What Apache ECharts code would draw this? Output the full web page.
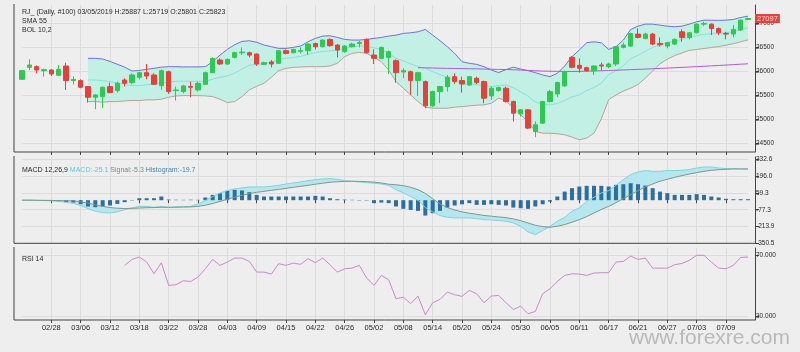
<!DOCTYPE html>
<html><head><meta charset="utf-8">
<script src="https://cdn.jsdelivr.net/npm/echarts@6/dist/echarts.min.js"></script>
<style>html,body{margin:0;padding:0;background:#eeeeee;}#c{width:800px;height:352px;}</style>
</head><body><div id="c"></div>
<script>
const dates = ['02/22','02/25','02/26','02/27','02/28','03/01','03/04','03/05','03/06','03/07','03/08','03/11','03/12','03/13','03/14','03/15','03/18','03/19','03/20','03/21','03/22','03/25','03/26','03/27','03/28','03/29','04/01','04/02','04/03','04/04','04/05','04/08','04/09','04/10','04/11','04/12','04/15','04/16','04/17','04/18','04/22','04/23','04/24','04/25','04/26','04/29','04/30','05/01','05/02','05/03','05/06','05/07','05/08','05/09','05/10','05/13','05/14','05/15','05/16','05/17','05/20','05/21','05/22','05/23','05/24','05/27','05/28','05/29','05/30','05/31','06/03','06/04','06/05','06/06','06/07','06/10','06/11','06/12','06/13','06/14','06/17','06/18','06/19','06/20','06/21','06/24','06/25','06/26','06/27','06/28','07/01','07/02','07/03','07/04','07/05','07/08','07/09','07/10','07/11','07/12'];

const opens  = [25826,26076,26090,26007,26021,25910,26104,25801,25799,25674, 25451,25465,25674,25590,25812,25757,25868,25965,25917,25694, 25986,25590,25570,25674,25604,25722,25965,26229,26146,26285, 26382,26382,26354,26139,26188,26160,26424,26382,26410,26424, 26576,26507,26660,26542,26403,26507,26576,26660,26333,26264, 26285,26215,25979,25986,25799,25778,25271,25570,25674,25882, 25799,25708,25847,25778,25479,25590,25639,25361,25104,25188, 24736,24910,25361,25521,25688,26285,26118,26069,26007,26125, 26090,26146,26493,26521,26771,26681,26771,26576,26521,26562, 26819,26701,26799,26979,26979,26889,26785,26771,26854,27076];
const highs  = [26021,26243,26118,26049,26035,26125,26174,25887,25826,25688, 25514,25674,25757,25778,25847,25951,25986,26146,25951,26035, 26007,25674,25708,25778,25778,25986,26285,26264,26264,26403, 26493,26403,26368,26194,26229,26438,26451,26465,26493,26576, 26590,26660,26681,26562,26542,26590,26632,26681,26451,26507, 26424,26243,26056,26007,25986,25799,25590,25688,25917,25951, 25882,25896,25882,25799,25674,25674,25674,25382,25201,25201, 24944,25375,25604,25778,26007,26312,26264,26090,26125,26174, 26174,26521,26590,26799,26889,26799,26799,26701,26611,26681, 26868,26819,26993,27028,26993,26910,26819,26958,27076,27111];
const lows   = [25812,26021,25951,25882,25896,25896,25604,25719,25639,25340, 25201,25222,25535,25549,25674,25722,25826,25826,25708,25604, 25521,25382,25535,25451,25570,25708,25951,26125,26125,26264, 26333,26285,26104,26125,26076,26146,26347,26368,26368,26333, 26451,26493,26507,26285,26382,26493,26493,26368,26146,26243, 25938,25757,25847,25500,25479,25222,25243,25326,25570,25729, 25549,25688,25729,25326,25396,25570,25340,24944,25049,24785, 24618,24896,25340,25451,25674,26056,25965,25986,25917,26007, 26056,26104,26472,26507,26681,26660,26542,26507,26472,26542, 26611,26660,26785,26937,26750,26750,26660,26701,26840,27062];
const closes = [26007,26125,26021,26028,25937,26035,25799,25823,25660,25451, 25500,25660,25549,25743,25743,25917,25965,25896,25722,26007, 25570,25604,25688,25660,25743,25965,26264,26146,26243,26382, 26396,26333,26146,26174,26146,26424,26368,26451,26424,26562, 26507,26646,26528,26438,26521,26562,26597,26382,26264,26493, 26403,25965,26007,25799,25965,25271,25570,25674,25868,25778, 25729,25882,25757,25431,25639,25653,25361,25118,25188,24806, 24875,25361,25569,25757,25986,26076,26056,26007,26104,26104, 26146,26507,26542,26785,26701,26771,26562,26548,26590,26660, 26701,26799,26979,26993,26889,26799,26771,26868,27062,27097];

const bolUpper = [null,null,null,null,null,null,null,null,null,26264, 26264,26250,26200,26140,26080,26000,26010,26035,26056,26080, 26090,26090,26085,26085,26085,26090,26194,26333,26451,26549, 26618,26632,26600,26542,26507,26472,26472,26493,26521,26611, 26681,26729,26736,26701,26660,26646,26646,26660,26681,26701, 26729,26750,26785,26799,26819,26868,26750,26632,26507,26368, 26194,26160,26139,26090,26021,25965,26030,26080,26040,26007, 25965,25917,25882,25951,26104,26299,26438,26590,26611,26590, 26451,26507,26646,26868,26937,26979,26979,26958,26937,26924, 26937,26979,27028,27062,27060,27058,27062,27076,27118,27146];
const bolMid   = [null,null,null,null,null,null,null,null,null,25812, 25812,25798,25780,25750,25722,25690,25696,25715,25726,25745, 25770,25785,25785,25785,25785,25785,25830,25870,25895,25955, 26040,26118,26140,26142,26188,26240,26264,26285,26302,26350, 26385,26410,26420,26430,26480,26507,26518,26514,26483,26448, 26375,26264,26212,26150,26090,26056,25986,25927,25865,25806, 25726,25716,25712,25691,25674,25698,25706,25651,25562,25476, 25350,25309,25292,25320,25386,25458,25500,25594,25655,25745, 25925,26004,26113,26254,26329,26415,26490,26554,26594,26622, 26659,26705,26739,26766,26776,26786,26801,26823,26864,26898];
const bolLower = [null,null,null,null,null,null,null,null,null,25361, 25361,25347,25361,25361,25375,25382,25382,25396,25396,25410, 25451,25479,25486,25486,25486,25479,25465,25410,25340,25361, 25465,25604,25680,25743,25868,26007,26056,26076,26083,26090, 26090,26090,26104,26160,26299,26368,26389,26368,26285,26194, 26021,25778,25639,25500,25361,25243,25222,25222,25222,25243, 25257,25271,25285,25292,25326,25431,25382,25222,25083,24944, 24736,24701,24701,24688,24667,24618,24562,24597,24700,25000, 25400,25500,25580,25640,25720,25850,26000,26150,26250,26320, 26380,26430,26450,26470,26490,26510,26540,26570,26610,26650];
const sma55 = [null,null,null,null,null,null,null,null,null,null, null,null,null,null,null,null,null,null,null,null, null,null,null,null,null,null,null,null,null,null, null,null,null,null,null,null,null,null,null,null, null,null,null,null,null,null,null,null,null,null, null,null,null,null,26069,26066,26062,26058,26055,26052, 26050,26047,26044,26040,26037,26033,26030,26025,26019,26012, 26005,25999,25995,25992,25990,25990,25992,25995,25999,26004, 26010,26016,26022,26028,26034,26040,26047,26054,26061,26068, 26075,26083,26091,26099,26107,26115,26124,26133,26142,26150];

const macdLine = [0,2,-1,-3,-6,-9,-17,-25.1,-44,-68, -90,-101,-104,-95,-77,-63,-50,-50,-58,-50, -58,-55,-52,-50,-30,-3,29,59,78,92, 100,108,108,108,113,121,132,140,148,159, 167,173,176,170,159,154,148,143,138,132, 121,85,60,30,0,-60,-95,-125,-139,-144, -144,-144,-150,-158,-161,-166,-171,-185,-212,-258, -280,-247,-212,-171,-139,-90,-63,-9,24,59, 78,121,167,208,230,241,235,235,241,241, 243,249,262,270,270,262,257,257,254,254];
const macdSignal = [0,0,-1,-1,-2,-3,-4,-5.3,-13,-24, -37,-50,-60,-65,-68,-66,-64,-61,-60,-58, -58,-57,-56,-55,-50,-41,-27,-10,8,25, 40,53,64,72,80,88,96,105,113,121, 130,138,146,150,153,154,153,151,147,140, 130,125,118,105,85,55,12,-30,-60,-80, -95,-106,-115,-124,-130,-136,-142,-152,-166,-185, -204,-215,-220,-212,-198,-179,-158,-133,-104,-76, -50,-20,13,45,78,108,132,154,170,186, 200,213,224,235,243,248,251,254,254,254];
const macdHist = [0,-2,-3,-5,-6,-10,-16,-19.7,-32,-51, -57,-51,-43,-30,-16,-3,16,16,16,30, 5,4,3,4,3,22,43,57,76,84, 79,65,43,30,30,30,30,30,30,30, 35,30,16,8,5,3,-3,-3,-24,-19, -24,-51,-70,-79,-87,-125,-106,-87,-60,-43, -33,-24,-38,-38,-33,-38,-43,-60,-65,-70, -51,-33,-11,30,70,98,111,117,117,117, 111,125,130,138,130,119,98,70,57,43, 43,43,49,43,30,22,11,8,8,8];

const rsi14 = [null,null,null,null,null,null,null,null,null,null, null,null,null,null,63.2,67.1,68.7,65.4,57.7,64.9, 50.1,50.5,53.1,52.7,55.5,61.0,67.1,63.2,65.4,68.0, 68.0,65.8,58.8,58.8,57.5,64.3,63.2,64.7,63.9,67.6, 65.0,68.0,63.6,58.8,61.0,61.4,63.2,54.9,50.1,56.6, 53.8,41.3,42.4,38.1,43.1,30.8,38.7,40.9,45.7,44.0, 42.9,46.8,44.6,38.7,43.1,43.5,38.7,34.3,36.5,31.5, 33.0,44.6,47.9,52.7,56.6,57.7,57.5,56.6,58.2,58.4, 58.4,65.4,65.8,69.3,67.1,68.0,61.4,61.4,61.4,63.6, 64.5,66.5,69.8,69.8,65.4,61.4,61.0,63.2,68.4,68.7];

const priceTicks = [24500,25000,25500,26000,26500,27000];
const macdTicks = [-350.5,-213.9,-77.3,59.3,196.0,332.6];
const rsiTicks = [30,70];
const lastPrice = 27097;

const titleMain = ['RJ_ (Daily, #100) 03/05/2019 H:25887 L:25719 O:25801 C:25823','SMA 55','BOL 10,2'];
const macdTitle = ['MACD 12,26,9','MACD:-25.1','Signal:-5.3','Histogram:-19.7'];
const rsiTitle = 'RSI 14';
const watermark = 'www.forexre.com';

// ---- layout & styles ----
const FONT = "'Liberation Sans', Arial, sans-serif";
const plotLeft = 22, plotRight = 748, frameLeft = 14, axisX = 755;
const panes = [
  {top: 5, bottom: 152, min: 24307, max: 27379, ticks: priceTicks, fmt: v => String(Math.round(v))},
  {top: 157, bottom: 243.3, min: -350.5, max: 351.3, ticks: macdTicks, fmt: v => v.toFixed(1)},
  {top: 248, bottom: 320, min: 27.4, max: 74.6, ticks: rsiTicks, fmt: v => v.toFixed(3)}
];
const C = {
  up: '#2fc850', down: '#e5403a', bbFill: '#c3f0e5', bbUpper: '#7272d2', bbLower: '#b3a596', bbMid: '#8adfdc',
  sma: '#b25ad6', macd: '#7fd3df', signal: '#7c9a8a', macdFill: '#b6e7ee', hist: '#2c6e9c', rsi: '#c98ac9',
  grid: '#dcdcdc', axis: '#444444', text: '#2a2a2a'
};
const every4 = (idx) => idx > 0 && idx % 4 === 0;

const grids = panes.map(p => ({left: plotLeft, width: plotRight - plotLeft, top: p.top, height: p.bottom - p.top, outerBoundsMode: 'none', containLabel: false}));
const xAxes = panes.map((p, g) => ({
  type: 'category', gridIndex: g, data: dates, boundaryGap: false,
  axisLine: {show: false},
  axisTick: {show: true, interval: every4, length: 3, lineStyle: {color: C.axis}},
  axisLabel: {show: g === 2, interval: every4, fontSize: 7.5, color: C.text, margin: 4, fontFamily: FONT},
  splitLine: {show: true, interval: every4, lineStyle: {color: C.grid, width: 1}}
}));
const yAxes = panes.map((p, g) => ({
  type: 'value', gridIndex: g, position: 'right', offset: axisX - plotRight, min: p.min, max: p.max,
  axisLine: {show: true, lineStyle: {color: C.axis}},
  axisTick: {show: true, length: 4, customValues: p.ticks, lineStyle: {color: C.axis}},
  axisLabel: {customValues: p.ticks, formatter: p.fmt, fontSize: 6.5, margin: 1, color: C.text, fontFamily: FONT},
  splitLine: {show: true, lineStyle: {color: C.grid, width: 1}}
}));

const bbDiff = bolUpper.map((u, i) => (u == null || bolLower[i] == null) ? null : u - bolLower[i]);
const mfBase = macdLine.map((m, i) => Math.min(m, macdSignal[i]));
const mfDiff = macdLine.map((m, i) => Math.abs(m - macdSignal[i]));
const candleData = opens.map((o, i) => [o, closes[i], lows[i], highs[i]]);

const hidden = {opacity: 0, width: 0};
const line = (name, data, color, xi, extra) => Object.assign({
  name, type: 'line', data, xAxisIndex: xi, yAxisIndex: xi, showSymbol: false, symbol: 'none',
  lineStyle: {color, width: 1}, itemStyle: {color}, z: 3, silent: true, connectNulls: false
}, extra || {});

const series = [
  line('bbBase', bolLower, C.bbFill, 0, {stack: 'bb', stackStrategy: 'all', lineStyle: hidden, z: 1}),
  line('bbFill', bbDiff, C.bbFill, 0, {stack: 'bb', stackStrategy: 'all', lineStyle: hidden, areaStyle: {color: C.bbFill, opacity: 1}, z: 1}),
  line('bbUpper', bolUpper, C.bbUpper, 0),
  line('bbLower', bolLower, C.bbLower, 0),
  line('bbMid', bolMid, C.bbMid, 0),
  line('sma55', sma55, C.sma, 0),
  {
    name: 'price', type: 'candlestick', data: candleData, xAxisIndex: 0, yAxisIndex: 0, barWidth: 5, clip: false, z: 4, silent: true,
    itemStyle: {color: C.up, color0: C.down, borderColor: C.up, borderColor0: C.down, borderColorDoji: C.up, borderWidth: 1},
    markLine: {
      symbol: 'none', silent: true, animation: false,
      lineStyle: {color: 'transparent', width: 0},
      label: {show: true, position: 'end', distance: 7, formatter: String(lastPrice), backgroundColor: '#e6403b', color: '#ffd9d9',
              fontSize: 7.5, fontFamily: FONT, padding: [1, 2, 0, 2]},
      data: [{yAxis: lastPrice}]
    }
  },
  line('mfBase', mfBase, C.macdFill, 1, {stack: 'mf', stackStrategy: 'all', lineStyle: hidden, z: 1}),
  line('mfFill', mfDiff, C.macdFill, 1, {stack: 'mf', stackStrategy: 'all', lineStyle: hidden, areaStyle: {color: C.macdFill, opacity: 1}, z: 1}),
  {name: 'hist', type: 'bar', data: macdHist, xAxisIndex: 1, yAxisIndex: 1, barWidth: 4, clip: false, itemStyle: {color: C.hist}, z: 2, silent: true},
  line('macd', macdLine, C.macd, 1),
  line('signal', macdSignal, C.signal, 1),
  line('rsi', rsi14, C.rsi, 2)
];

const frame = [];
panes.forEach(p => {
  frame.push({type: 'polyline', silent: true, z: 10, shape: {points: [[frameLeft, p.top - 1], [frameLeft, p.bottom], [axisX, p.bottom]]},
              style: {stroke: C.axis, fill: null, lineWidth: 1}});
});
frame.push({type: 'text', silent: true, right: 10, bottom: 3, z: 0,
            style: {text: watermark, fill: '#b9b9b9', font: "21px 'Liberation Sans', Arial, sans-serif"}});

const chart = echarts.init(document.getElementById('c'), null, {renderer: 'canvas'});
chart.setOption({
  animation: false,
  backgroundColor: '#eeeeee',
  title: [
    {left: 17, top: 3, text: titleMain.join('\n'), textStyle: {fontSize: 7, lineHeight: 9, color: C.text, fontWeight: 'normal', fontFamily: FONT}},
    {left: 17, top: 162, text: '{a|' + macdTitle[0] + '} {b|' + macdTitle[1] + '} {c|' + macdTitle[2] + '} {d|' + macdTitle[3] + '}',
     textStyle: {fontSize: 7, fontWeight: 'normal', fontFamily: FONT, rich: {
       a: {fontSize: 7, color: C.text, fontFamily: FONT}, b: {fontSize: 7, color: '#6cc4d6', fontFamily: FONT},
       c: {fontSize: 7, color: '#7d8a86', fontFamily: FONT}, d: {fontSize: 7, color: '#4d86ad', fontFamily: FONT}}}},
    {left: 17, top: 251, text: rsiTitle, textStyle: {fontSize: 7, color: C.text, fontWeight: 'normal', fontFamily: FONT}}
  ],
  grid: grids, xAxis: xAxes, yAxis: yAxes, series: series, graphic: frame
});
</script></body></html>
